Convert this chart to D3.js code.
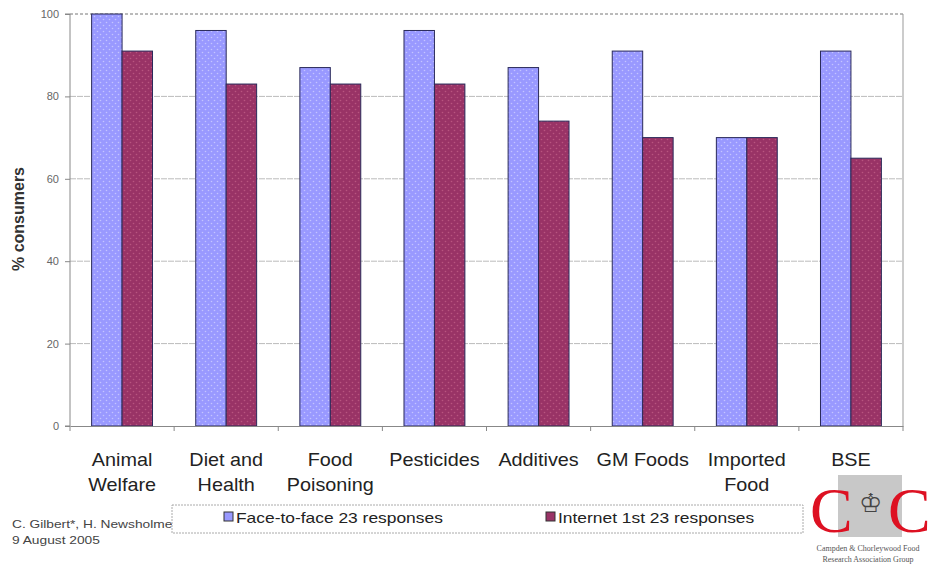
<!DOCTYPE html>
<html><head><meta charset="utf-8">
<script src="https://cdn.jsdelivr.net/npm/d3@7"></script>
<style>body{margin:0;background:#fff}svg{display:block;font-family:Arial,"Liberation Sans",sans-serif}</style>
</head><body><svg id="c" width="930" height="573"></svg>
<script>
const categories = [["Animal","Welfare"],["Diet and","Health"],["Food","Poisoning"],["Pesticides"],["Additives"],["GM Foods"],["Imported","Food"],["BSE"]];
const seriesNames = ["Face-to-face 23 responses","Internet 1st 23 responses"];
const faceToFace = [100, 96, 87, 96, 87, 91, 70, 91];
const internet = [91, 83, 83, 83, 74, 70, 70, 65];
const yTicks = [0, 20, 40, 60, 80, 100];
const colors = ["#9999ff", "#993366"];

const svg = d3.select("#c");
const m = {l:70, r:903, t:14, b:426};
const defs = svg.append("defs");
[["pb","#9999ff","#c4c4ff"],["pr","#993366","#b8557f"]].forEach(([id,bg,dot])=>{
  const p = defs.append("pattern").attr("id",id).attr("width",6).attr("height",6).attr("patternUnits","userSpaceOnUse");
  p.append("rect").attr("width",6).attr("height",6).attr("fill",bg);
  p.append("circle").attr("cx",1.5).attr("cy",1.5).attr("r",0.8).attr("fill",dot);
  p.append("circle").attr("cx",4.5).attr("cy",4.5).attr("r",0.8).attr("fill",dot);
});
const fills = ["url(#pb)","url(#pr)"];

const idx = d3.range(categories.length);
const x = d3.scaleBand().domain(idx).range([m.l, m.r]).paddingInner(0).paddingOuter(0);
const xs = d3.scaleBand().domain([0,1]).range([0, x.bandwidth()]).paddingInner(0).paddingOuter(0.71);
const y = d3.scaleLinear().domain([0,100]).range([m.b, m.t]);

// gridlines
svg.append("g").selectAll("line").data(yTicks.filter(d=>d>0)).join("line")
  .attr("x1",m.l).attr("x2",m.r).attr("y1",d=>y(d)).attr("y2",d=>y(d))
  .attr("stroke",d=>d===100?"#777":"#bbb").attr("stroke-width",1)
  .attr("stroke-dasharray",d=>d===100?"3,2":"6,1");
svg.append("line").attr("x1",m.r).attr("x2",m.r).attr("y1",m.t).attr("y2",m.b).attr("stroke","#999");

// bars
const series = [faceToFace, internet];
series.forEach((vals,si)=>{
  svg.append("g").selectAll("rect").data(vals).join("rect")
    .attr("x",(d,i)=>x(i)+xs(si)).attr("width",xs.bandwidth())
    .attr("y",d=>y(d)).attr("height",d=>y(0)-y(d))
    .attr("fill",fills[si]).attr("stroke","#2a2a5a").attr("stroke-width",1);
});

// y axis
const ya = svg.append("g").attr("transform",`translate(${m.l},0)`)
  .call(d3.axisLeft(y).tickValues(yTicks).tickSize(5).tickPadding(6));
ya.selectAll("path,line").attr("stroke","#888");
ya.select(".domain").attr("d",`M-5,${m.t}H0V${m.b}H-5`);
ya.selectAll("text").attr("fill","#666").attr("font-size",11).attr("font-family","Arial, Liberation Sans, sans-serif");

// x axis
const xa = svg.append("g").attr("transform",`translate(0,${m.b})`)
  .call(d3.axisBottom(x).tickValues([]).tickSizeOuter(0));
xa.select(".domain").attr("stroke","#888");
svg.append("g").selectAll("line").data(d3.range(categories.length+1)).join("line")
  .attr("x1",i=>m.l+i*x.bandwidth()).attr("x2",i=>m.l+i*x.bandwidth())
  .attr("y1",m.b).attr("y2",m.b+5).attr("stroke","#888");

const lab = svg.append("g").selectAll("text").data(categories).join("text")
  .attr("transform",(d,i)=>`translate(${x(i)+x.bandwidth()/2},466) scale(1.1,1)`)
  .attr("text-anchor","middle").attr("font-size",18).attr("fill","#222");
lab.selectAll("tspan").data(d=>d).join("tspan")
  .attr("x",0).attr("dy",(d,i)=>i===0?0:25).text(d=>d);

// y label
svg.append("text").attr("transform","translate(24,219) rotate(-90)")
  .attr("text-anchor","middle").attr("font-size",16).attr("font-weight","bold").attr("fill","#333")
  .text("% consumers");

// footer (under legend box)
svg.append("text").attr("transform","translate(12,528) scale(1.25,1)").attr("font-size",11).attr("fill","#444").text("C. Gilbert*, H. Newsholme");
svg.append("text").attr("transform","translate(12,544) scale(1.25,1)").attr("font-size",11).attr("fill","#444").text("9 August 2005");

// legend
svg.append("rect").attr("x",172).attr("y",505).attr("width",631).attr("height",28)
  .attr("fill","#fff").attr("stroke","#aaa").attr("stroke-dasharray","2,1");
const legX = [224, 546];
seriesNames.forEach((n,i)=>{
  svg.append("rect").attr("x",legX[i]).attr("y",512).attr("width",9).attr("height",9)
    .attr("fill",colors[i]).attr("stroke","#333").attr("stroke-width",1);
  svg.append("text").attr("transform",`translate(${legX[i]+12},523) scale(1.16,1)`)
    .attr("font-size",15).attr("fill","#222").text(n);
});

// logo
svg.append("rect").attr("x",838).attr("y",475).attr("width",64).attr("height",62).attr("fill","#c8c8c8");
svg.append("text").attr("x",870).attr("y",512).attr("text-anchor","middle").attr("font-size",26).attr("fill","#444").attr("font-family","DejaVu Serif, serif").text("♔");
svg.append("text").attr("x",810).attr("y",532).attr("font-size",64).attr("fill","#dd1122").attr("font-family","Liberation Serif, serif").text("C");
svg.append("text").attr("x",888).attr("y",532).attr("font-size",64).attr("fill","#dd1122").attr("font-family","Liberation Serif, serif").text("C");
svg.append("text").attr("x",868).attr("y",551).attr("text-anchor","middle").attr("font-size",8).attr("fill","#555").attr("font-family","Liberation Serif, serif").text("Campden & Chorleywood Food");
svg.append("text").attr("x",868).attr("y",562).attr("text-anchor","middle").attr("font-size",8).attr("fill","#555").attr("font-family","Liberation Serif, serif").text("Research Association Group");
</script></body></html>
